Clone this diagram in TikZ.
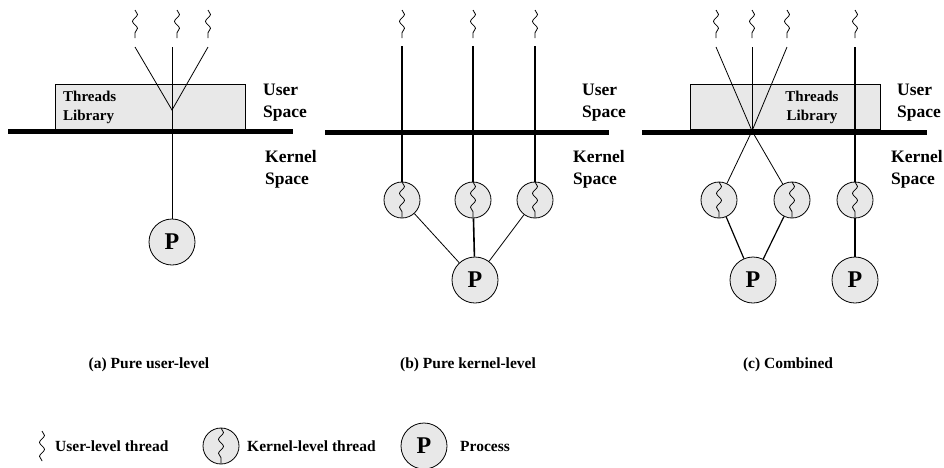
\documentclass[tikz,border=0pt]{standalone}
\usepackage{fontspec}
\setmainfont{Liberation Serif}
\usetikzlibrary{decorations.pathmorphing}

\begin{document}
\begin{tikzpicture}[x=1pt,y=-1pt,
    thn/.style={line width=0.8pt},
    thk/.style={line width=1.6pt},
    bar/.style={line width=5pt},
    uthr/.style={decorate, decoration={snake, amplitude=2.5pt, segment length=14pt}, line width=0.8pt},
    kthr/.style={circle, draw, line width=0.8pt, fill=gray!18, minimum size=36pt, inner sep=0pt,
      path picture={\draw[uthr] (path picture bounding box.north) -- (path picture bounding box.south);}},
    proc/.style={circle, draw, line width=0.8pt, fill=gray!18, minimum size=46pt, inner sep=0pt,
      font=\fontsize{24}{24}\selectfont\bfseries},
    lib/.style={draw, line width=0.8pt, fill=gray!18, minimum width=190pt, minimum height=45pt, inner sep=0pt},
    libtxt/.style={inner sep=0pt, font=\fontsize{15}{19}\selectfont\bfseries},
    lbl/.style={align=left, inner sep=0pt, anchor=west, font=\fontsize{17.5}{22}\selectfont\bfseries},
    captxt/.style={inner sep=0pt, font=\fontsize{15.5}{18}\selectfont\bfseries}]
    \useasboundingbox (0,0) rectangle (944,467);

    % (a) pure user-level
    \node[lib] (alib) at (150,106.5) {};
    \node[libtxt, align=left, anchor=west] (alibt) at (63,107.5) {Threads\\Library};
    \draw[uthr] (135,10) -- (135,38);
    \draw[uthr] (177,10) -- (177,38);
    \draw[uthr] (208,10) -- (208,38);
    \coordinate (au1) at (135,47);
    \coordinate (au2) at (172,47);
    \coordinate (au3) at (208,47);
    \coordinate (av) at (172,110);
    \node[proc] (ap) at (172,242) {P};
    \draw[thn] (au1) -- (av) -- (au3);
    \draw[thn] (au2) -- (ap);
    \draw[bar] (8,131.5) -- (293,131.5);
    \node[lbl] (aus) at (263,103) {User\\Space};
    \node[lbl] (aks) at (265,169) {Kernel\\Space};

    % (b) pure kernel-level
    \draw[uthr] (402,10) -- (402,38);
    \draw[uthr] (473,10) -- (473,38);
    \draw[uthr] (535,10) -- (535,38);
    \coordinate (bu1) at (402,46);
    \coordinate (bu2) at (473,46);
    \coordinate (bu3) at (535,46);
    \node[kthr] (bk1) at (402,200) {};
    \node[kthr] (bk2) at (473,200) {};
    \node[kthr] (bk3) at (535,200) {};
    \node[proc] (bp) at (475,280) {P};
    \draw[thk] (bu1) -- (bk1);
    \draw[thk] (bu2) -- (bk2);
    \draw[thk] (bu3) -- (bk3);
    \draw[thn] (bk1) -- (bp);
    \draw[thk] (bk2) -- (bp);
    \draw[thn] (bk3) -- (bp);
    \draw[bar] (325,132) -- (609,132);
    \node[lbl] (bus) at (582,103) {User\\Space};
    \node[lbl] (bks) at (573,169) {Kernel\\Space};

    % (c) combined
    \node[lib] (clib) at (785,106.5) {};
    \node[libtxt, align=center] (clibt) at (812,107.5) {Threads\\Library};
    \draw[uthr] (716,10) -- (716,38);
    \draw[uthr] (752,10) -- (752,38);
    \draw[uthr] (787,10) -- (787,38);
    \draw[uthr] (855,10) -- (855,38);
    \coordinate (cu1) at (716,47);
    \coordinate (cu2) at (752,47);
    \coordinate (cu3) at (787,47);
    \coordinate (cu4) at (855,47);
    \coordinate (cx) at (752,131);
    \node[kthr] (ck1) at (719,200) {};
    \node[kthr] (ck2) at (792,200) {};
    \node[kthr] (ck3) at (855,200) {};
    \node[proc] (cp1) at (753,280) {P};
    \node[proc] (cp2) at (855,280) {P};
    \draw[thn] (cu1) -- (cx) -- (ck2);
    \draw[thn] (cu3) -- (cx) -- (ck1);
    \draw[thn] (cu2) -- (cx);
    \draw[thk] (cu4) -- (ck3);
    \draw[line width=1.2pt] (ck1) -- (cp1);
    \draw[line width=1.2pt] (ck2) -- (cp1);
    \draw[thk] (ck3) -- (cp2);
    \draw[bar] (642,132) -- (927,132);
    \node[lbl] (cus) at (897,103) {User\\Space};
    \node[lbl] (cks) at (891,169) {Kernel\\Space};

    % captions
    \node[captxt] (capa) at (149,365) {(a) Pure user-level};
    \node[captxt] (capb) at (468,365) {(b) Pure kernel-level};
    \node[captxt] (capc) at (788,365) {(c) Combined};

    % key
    \draw[uthr] (42,431) -- (42,461);
    \node[captxt, anchor=west] (kut) at (55,446) {User-level thread};
    \node[kthr] (kkt) at (221,446) {};
    \node[captxt, anchor=west] (kktt) at (247,446) {Kernel-level thread};
    \node[proc] (kp) at (424,446) {P};
    \node[captxt, anchor=west] (kpt) at (460,446) {Process};
\end{tikzpicture}
\end{document}
